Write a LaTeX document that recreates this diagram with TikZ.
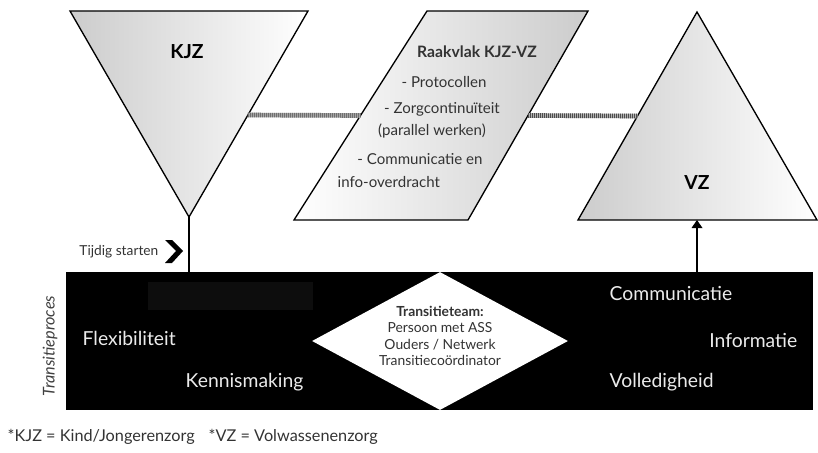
\documentclass[tikz,border=0pt]{standalone}
\usepackage{fontspec}
\setmainfont{Lato}
\usetikzlibrary{shapes.geometric,arrows.meta,calc}
\begin{document}
\begin{tikzpicture}[x=0.75pt,y=-0.75pt,
    tri/.style={draw,line width=1pt},
    hatch/.style={draw=gray!60,line width=3.5pt,postaction={draw=black!70,line width=3.5pt,dash pattern=on 0.6pt off 0.9pt}},
    rv/.style={text=black!80,font=\fontsize{11.3}{13}\selectfont},
    wt/.style={text=white!92!black,font=\fontsize{14.5}{16}\selectfont,anchor=west},
    tm/.style={text=black!80,font=\fontsize{10.4}{12.4}\selectfont,align=center},
    leg/.style={anchor=west,text=black!80,font=\fontsize{12.2}{14}\selectfont}]
\useasboundingbox (0,0) rectangle (818,453);
\coordinate (kjzL) at (70,11);
\coordinate (kjzR) at (308,11);
\coordinate (kjzB) at (189,217);
\coordinate (rvTL) at (427,11);
\coordinate (rvTR) at (588,11);
\coordinate (rvBR) at (468,220);
\coordinate (rvBL) at (294,220);
\coordinate (vzT) at (697,12);
\coordinate (vzL) at (578,220);
\coordinate (vzR) at (817,220);
\coordinate (vzB) at (697,220);
\shade[left color=gray!40,right color=white] (kjzL) -- (kjzR) -- (kjzB) -- cycle;
\draw[tri] (kjzL) -- (kjzR) -- (kjzB) -- cycle;
\shade[left color=white,right color=gray!40] (rvTL) -- (rvTR) -- (rvBR) -- (rvBL) -- cycle;
\draw[tri] (rvTL) -- (rvTR) -- (rvBR) -- (rvBL) -- cycle;
\shade[left color=gray!40,right color=white] (vzT) -- (vzR) -- (vzL) -- cycle;
\draw[tri] (vzT) -- (vzR) -- (vzL) -- cycle;
\node[font=\bfseries\fontsize{14.5}{16}\selectfont] (kjz) at (187,52) {KJZ};
\node[font=\bfseries\fontsize{14.5}{16}\selectfont] (vz) at (697,183) {VZ};
\node[rv,font=\bfseries\fontsize{11.8}{13}\selectfont] (rvt) at (477,52) {Raakvlak KJZ-VZ};
\node[rv] (rv1) at (444,82) {- Protocollen};
\node[rv] (rv2) at (442,109) {- Zorgcontinuïteit};
\node[rv] (rv3) at (432,131) {(parallel werken)};
\node[rv] (rv4) at (420,159) {- Communicatie en};
\node[rv,anchor=west] (rv5) at (333,182) {info-overdracht};
\draw[hatch] ($(kjzR)!.505!(kjzB)$) -- ($(rvTL)!.5!(rvBL)$);
\draw[hatch] ($(rvTR)!.5!(rvBR)$) -- ($(vzT)!.5!(vzL)$);
\node[fill=black,minimum width=560.25pt,minimum height=103.5pt,inner sep=0] (proc) at (439.5,341) {};
\fill[black!95] (148,282) rectangle (313,310);
\node[diamond,fill=white,minimum width=192pt,minimum height=103.5pt,inner sep=0] (team) at (440,341) {};
\node[tm] (teamtxt) at (440,336) {\textbf{Transitieteam:}\\Persoon met ASS\\Ouders / Netwerk\\Transitiecoördinator};
\draw[line width=1pt] (kjzB) -- (kjzB |- proc.north);
\draw[line width=1pt,-{Triangle[width=8pt,length=6pt]}] (vzB |- proc.north) -- (vzB);
\node[anchor=east,text=black!80,font=\fontsize{10.3}{12}\selectfont] (start) at (163,252) {Tijdig starten};
\fill (165,240) -- (172,240) -- (183,251) -- (172,263) -- (165,263) -- (176,251) -- cycle;
\node[wt] (flex) at (78,338) {Flexibiliteit};
\node[wt] (kennis) at (181,382) {Kennismaking};
\node[wt] (comm) at (605,293) {Communicatie};
\node[wt,anchor=east] (info) at (802,340) {Informatie};
\node[wt] (volle) at (605,382) {Volledigheid};
\node[rotate=90,text=black!75,font=\itshape\fontsize{12.2}{14}\selectfont] (proces) at (50,346) {Transitieproces};
\node[leg] (leg1) at (3,437) {*KJZ = Kind/Jongerenzorg};
\node[leg] (leg2) at (204,437) {*VZ = Volwassenenzorg};
\end{tikzpicture}
\end{document}
